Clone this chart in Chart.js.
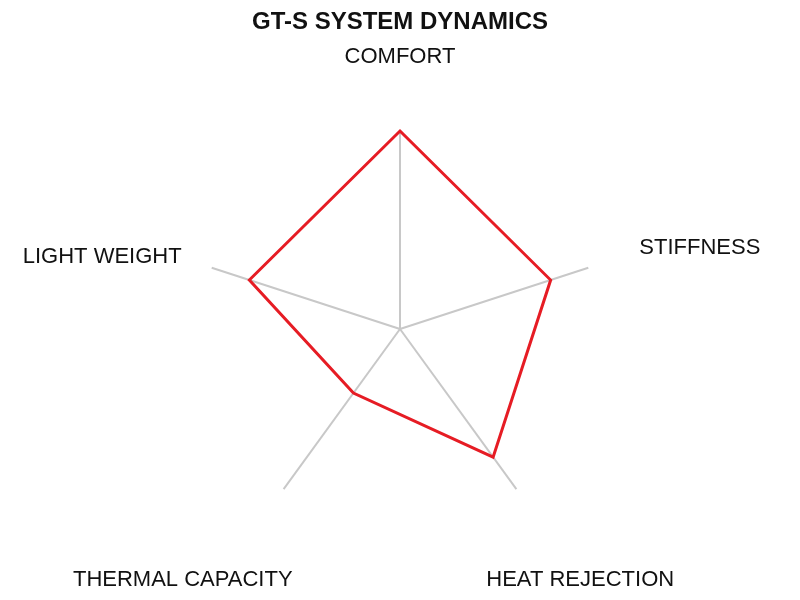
<!DOCTYPE html>
<html>
<head>
<meta charset="utf-8">
<script src="https://cdn.jsdelivr.net/npm/chart.js@4/dist/chart.umd.min.js"></script>
<style>
  html, body { margin: 0; padding: 0; background: #fff; }
  #wrap { width: 800px; height: 600px; }
</style>
</head>
<body>
<div id="wrap"><canvas id="radarChart" width="800" height="600"></canvas></div>
<script>
const categories = ['COMFORT', 'STIFFNESS', 'HEAT REJECTION', 'THERMAL CAPACITY', 'LIGHT WEIGHT'];
const dynamicsValues = [100, 80, 80, 40, 80];
const scaleMin = 0;
const scaleMax = 100;

// labels sit well outside the axis ends, centred on each direction
// (small per-label nudges to match the original placement)
const labelNudge = [[0, 3], [5, -6], [-2, 1], [-35, 1], [-3, 3]];
const outerLabels = {
    id: 'outerLabels',
    afterDraw(chart) {
        const scale = chart.scales.r;
        const ctx = chart.ctx;
        ctx.save();
        ctx.font = '22px Arial, "Liberation Sans", sans-serif';
        ctx.fillStyle = '#111';
        ctx.textAlign = 'center';
        ctx.textBaseline = 'middle';
        categories.forEach((label, i) => {
            const p = scale.getPointPosition(i, scale.drawingArea);
            const dx = (p.x - scale.xCenter) / scale.drawingArea;
            const dy = (p.y - scale.yCenter) / scale.drawingArea;
            const n = labelNudge[i];
            ctx.fillText(label, scale.xCenter + dx * 310 + n[0], scale.yCenter + dy * 290 + 15 + n[1]);
        });
        ctx.restore();
    }
};

const ctx = document.getElementById('radarChart');
new Chart(ctx, {
    type: 'radar',
    data: {
        labels: categories,
        datasets: [{
            label: 'GT-S',
            data: dynamicsValues,
            borderColor: 'rgb(230, 28, 36)',
            borderWidth: 3,
            backgroundColor: 'rgba(0,0,0,0)',
            fill: false,
            pointRadius: 0,
            pointHoverRadius: 0,
            tension: 0
        }]
    },
    options: {
        responsive: false,
        animation: false,
        layout: { padding: { top: 0, bottom: 72, left: 0, right: 0 } },
        plugins: {
            legend: { display: false },
            tooltip: { enabled: false },
            title: {
                display: true,
                text: 'GT-S SYSTEM DYNAMICS',
                color: '#111',
                font: { family: 'Arial, "Liberation Sans", sans-serif', size: 24, weight: 'bold', lineHeight: 1.2 },
                padding: { top: 8, bottom: 95 }
            }
        },
        scales: {
            r: {
                min: scaleMin,
                max: scaleMax,
                ticks: { display: false },
                grid: { display: false },
                angleLines: { display: true, color: '#c8c8c8', lineWidth: 2 },
                pointLabels: { display: false }
            }
        }
    },
    plugins: [outerLabels]
});
</script>
</body>
</html>
